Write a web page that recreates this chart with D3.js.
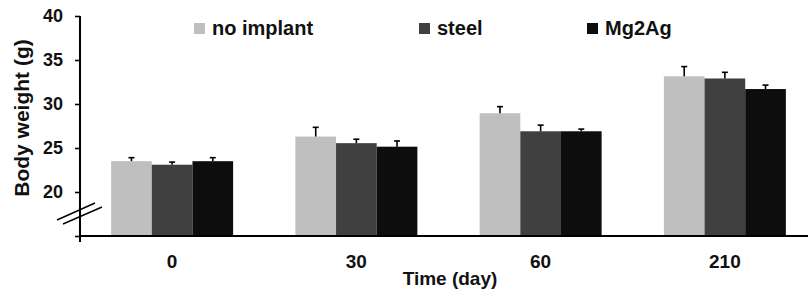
<!DOCTYPE html>
<html>
<head>
<meta charset="utf-8">
<script src="https://cdn.jsdelivr.net/npm/d3@7"></script>
<style>
  body { margin: 0; background: #fff; }
  svg { display: block; font-family: "Liberation Sans", Arial, sans-serif; font-weight: bold; }
</style>
</head>
<body>
<svg id="chart" width="809" height="298"></svg>
<script>
// data
const days = ["0", "30", "60", "210"]
const series = ["no implant", "steel", "Mg2Ag"]
const colors = ["#bfbfbf", "#404040", "#0d0d0d"]
const noImplant = [23.5, 26.3, 28.95, 33.15]
const steel = [23.1, 25.55, 26.9, 32.9]
const mg2ag = [23.5, 25.15, 26.9, 31.7]
const errNoImplant = [0.4, 1.05, 0.75, 1.1]
const errSteel = [0.3, 0.45, 0.7, 0.7]
const errMg2ag = [0.4, 0.65, 0.25, 0.45]
const yTicks = [15, 20, 25, 30, 35, 40]

const values = [noImplant, steel, mg2ag]
const errors = [errNoImplant, errSteel, errMg2ag]

const svg = d3.select("#chart")
const margin = {left: 80, top: 16, bottom: 236}

const y = d3.scaleLinear().domain([15, 40]).range([margin.bottom, margin.top])

const x0 = d3.scaleBand().domain(days).range([80, 817])
  .paddingInner(0.338).paddingOuter(0.169)
const x1 = d3.scaleBand().domain(series).range([0, x0.bandwidth()])

// flatten to one record per bar
let bars = []
days.forEach((d, i) => {
  series.forEach((s, j) => {
    bars.push({day: d, series: s, value: values[j][i], err: errors[j][i], color: colors[j]})
  })
})

// bars
svg.append("g").selectAll("rect").data(bars).enter()
  .append("rect")
  .attr("x", d => x0(d.day) + x1(d.series))
  .attr("width", x1.bandwidth())
  .attr("y", d => y(d.value))
  .attr("height", d => y(15) - y(d.value))
  .attr("fill", d => d.color)

// error bars (upper only)
const eb = svg.append("g").attr("stroke", "#000").attr("stroke-width", 1.6)
eb.selectAll("line.v").data(bars).enter()
  .append("line")
  .attr("x1", d => x0(d.day) + x1(d.series) + x1.bandwidth() / 2)
  .attr("x2", d => x0(d.day) + x1(d.series) + x1.bandwidth() / 2)
  .attr("y1", d => y(d.value))
  .attr("y2", d => y(d.value + d.err))
eb.selectAll("line.c").data(bars).enter()
  .append("line")
  .attr("x1", d => x0(d.day) + x1(d.series) + x1.bandwidth() / 2 - 3)
  .attr("x2", d => x0(d.day) + x1(d.series) + x1.bandwidth() / 2 + 3)
  .attr("y1", d => y(d.value + d.err))
  .attr("y2", d => y(d.value + d.err))

// y axis
const yAxis = svg.append("g")
  .attr("transform", `translate(${margin.left},0)`)
  .call(d3.axisLeft(y).tickValues(yTicks).tickSize(5).tickSizeOuter(0)
    .tickFormat(d => d === 15 ? "" : d))
yAxis.select(".domain").remove()
yAxis.selectAll(".tick line").attr("stroke", "#000").attr("stroke-width", 1.6)
yAxis.selectAll(".tick text")
  .attr("x", -17)
  .attr("font-size", 18).attr("font-weight", "bold")
  .attr("font-family", "Liberation Sans, Arial, sans-serif")
  .attr("fill", "#111")

svg.append("line")
  .attr("x1", margin.left).attr("x2", margin.left)
  .attr("y1", y(40)).attr("y2", y(15) + 6)
  .attr("stroke", "#000").attr("stroke-width", 2)

// x axis line
svg.append("line")
  .attr("x1", margin.left).attr("x2", 808)
  .attr("y1", y(15)).attr("y2", y(15))
  .attr("stroke", "#000").attr("stroke-width", 2)

// axis break marks
svg.append("line").attr("x1", 57).attr("y1", 220).attr("x2", 95).attr("y2", 203)
  .attr("stroke", "#000").attr("stroke-width", 1.4)
svg.append("line").attr("x1", 63).attr("y1", 224).attr("x2", 102).attr("y2", 207)
  .attr("stroke", "#000").attr("stroke-width", 1.4)

// x tick labels
svg.append("g").selectAll("text").data(days).enter()
  .append("text")
  .attr("x", d => x0(d) + x0.bandwidth() / 2)
  .attr("y", 268)
  .attr("text-anchor", "middle")
  .attr("font-size", 19)
  .attr("fill", "#111")
  .text(d => d)

// axis titles
svg.append("text")
  .attr("x", 450).attr("y", 285)
  .attr("text-anchor", "middle")
  .attr("font-size", 19)
  .attr("fill", "#111")
  .text("Time (day)")

svg.append("text")
  .attr("transform", "translate(29,118) rotate(-90)")
  .attr("text-anchor", "middle")
  .attr("font-size", 21)
  .attr("fill", "#111")
  .text("Body weight (g)")

// legend
const legendX = [194, 419, 587]
const legend = svg.append("g").selectAll("g").data(series).enter()
  .append("g")
  .attr("transform", (d, i) => `translate(${legendX[i]},23)`)
legend.append("rect")
  .attr("width", 11).attr("height", 11)
  .attr("fill", (d, i) => colors[i])
legend.append("text")
  .attr("x", 18).attr("y", 12)
  .attr("font-size", 20)
  .attr("fill", "#111")
  .text(d => d)
</script>
</body>
</html>
